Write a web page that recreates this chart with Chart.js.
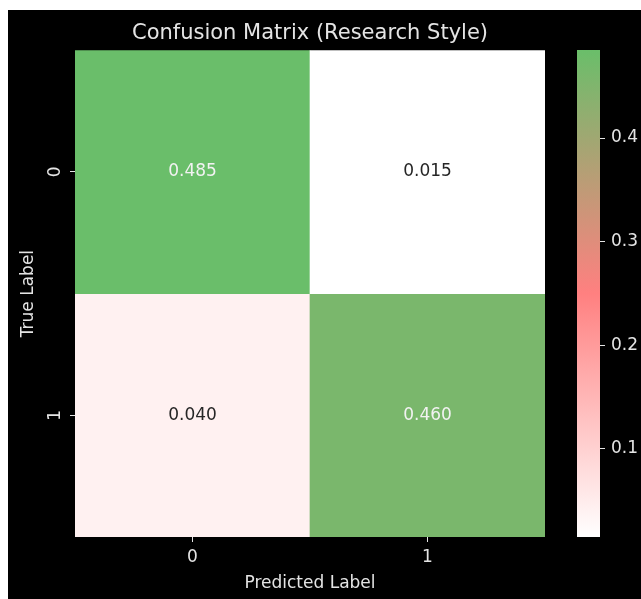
<!DOCTYPE html>
<html>
<head>
<meta charset="utf-8">
<script src="https://cdn.jsdelivr.net/npm/chart.js@4.4.1/dist/chart.umd.min.js"></script>
<style>
  html, body { margin: 0; padding: 0; background: #fff; }
  #wrap { position: relative; width: 641px; height: 599px; overflow: hidden; }
  #panel { position: absolute; left: 8px; top: 10px; width: 633px; height: 589px; background: #000; }
  #heat { position: absolute; left: 0; top: 0; }
  #cbar { position: absolute; left: 565px; top: 0; }
</style>
</head>
<body>
<div id="wrap">
  <div id="panel"></div>
  <canvas id="heat" width="565" height="599"></canvas>
  <canvas id="cbar" width="76" height="599"></canvas>
</div>
<script>
// confusion matrix values (rows = true label, cols = predicted label)
const predLabels = ["0", "1"];
const trueLabels = ["0", "1"];
const matrix = [
  [0.485, 0.015],
  [0.040, 0.460]
];
const cbarTicks = [0.1, 0.2, 0.3, 0.4];

// white -> pink -> green colormap
const cmapStops = ["#ffffff", "#ff8080", "#6abe6a"];

const textCol = "#e4e4e4";
Chart.defaults.font.family = "'DejaVu Sans', sans-serif";
Chart.defaults.font.size = 17;
Chart.defaults.color = textCol;

const vmin = Math.min(...matrix.flat());
const vmax = Math.max(...matrix.flat());

function hexToRgb(h) {
  return [1, 3, 5].map(i => parseInt(h.slice(i, i + 2), 16));
}

function cmapRgb(t) {
  t = Math.max(0, Math.min(1, t));
  const n = cmapStops.length - 1;
  const k = Math.min(Math.floor(t * n), n - 1);
  const f = t * n - k;
  const a = hexToRgb(cmapStops[k]), b = hexToRgb(cmapStops[k + 1]);
  return a.map((v, i) => Math.round(v + (b[i] - v) * f));
}

function cmap(v) {
  const c = cmapRgb((v - vmin) / (vmax - vmin));
  return `rgb(${c[0]},${c[1]},${c[2]})`;
}

// seaborn-like choice of annotation colour
function annotColor(v) {
  const c = cmapRgb((v - vmin) / (vmax - vmin)).map(x => {
    x /= 255;
    return x <= 0.03928 ? x / 12.92 : Math.pow((x + 0.055) / 1.055, 2.4);
  });
  const lum = 0.2126 * c[0] + 0.7152 * c[1] + 0.0722 * c[2];
  return lum < 0.45 ? "#f2f2f2" : "#262626";
}

const cellText = {
  id: "cellText",
  afterDatasetsDraw(chart) {
    const ctx = chart.ctx;
    ctx.save();
    ctx.font = "17px 'DejaVu Sans', sans-serif";
    ctx.textAlign = "center";
    ctx.textBaseline = "middle";
    chart.data.datasets.forEach((ds, r) => {
      chart.getDatasetMeta(r).data.forEach((bar, c) => {
        const v = matrix[r][c];
        const p = bar.getProps(["x", "y", "base"], true);
        ctx.fillStyle = annotColor(v);
        ctx.fillText(v.toFixed(3), p.x, (p.y + p.base) / 2);
      });
    });
    ctx.restore();
  }
};

const datasets = trueLabels.map((lab, r) => ({
  label: "True " + lab,
  data: predLabels.map(() => [r, r + 1]),
  backgroundColor: matrix[r].map(v => cmap(v)),
  borderWidth: 0,
  grouped: false,
  barPercentage: 1,
  categoryPercentage: 1
}));

new Chart(document.getElementById("heat"), {
  type: "bar",
  data: { labels: predLabels, datasets },
  options: {
    responsive: false,
    animation: false,
    layout: { padding: { left: 0, right: 20, top: 0, bottom: 0 }, autoPadding: false },
    plugins: {
      legend: { display: false },
      tooltip: { enabled: false },
      title: {
        display: true,
        text: "Confusion Matrix (Research Style)",
        fullSize: false,
        color: textCol,
        font: { size: 21, weight: "normal" },
        padding: { top: 21, bottom: 4 }
      }
    },
    scales: {
      x: {
        grid: { offset: false, drawOnChartArea: false, tickLength: 5, color: textCol },
        border: { display: false },
        ticks: { padding: 5 },
        afterFit: s => { s.height = 62; },
        title: { display: true, text: "Predicted Label", padding: { top: 0, bottom: 5 } }
      },
      y: {
        min: 0,
        max: 2,
        reverse: true,
        afterBuildTicks: s => { s.ticks = trueLabels.map((l, i) => ({ value: i + 0.5 })); },
        afterFit: s => { s.width = 75; },
        ticks: {
          callback: v => trueLabels[Math.floor(v)],
          minRotation: 90,
          maxRotation: 90,
          crossAlign: "center",
          padding: 9
        },
        grid: { drawOnChartArea: false, tickLength: 5, color: textCol },
        border: { display: false },
        title: { display: true, text: "True Label", padding: { top: 18, bottom: 0 } }
      }
    }
  },
  plugins: [cellText]
});

// colour bar
new Chart(document.getElementById("cbar"), {
  type: "bar",
  data: {
    labels: [""],
    datasets: [{
      data: [[vmin, vmax]],
      backgroundColor: c => {
        const chart = c.chart;
        if (!chart.chartArea) return null;
        const y = chart.scales.y;
        const g = chart.ctx.createLinearGradient(0, y.getPixelForValue(vmin), 0, y.getPixelForValue(vmax));
        cmapStops.forEach((col, i) => g.addColorStop(i / (cmapStops.length - 1), col));
        return g;
      },
      borderWidth: 0,
      barPercentage: 1,
      categoryPercentage: 1
    }]
  },
  options: {
    responsive: false,
    animation: false,
    layout: { padding: { left: 12, right: 0, top: 50, bottom: 62 }, autoPadding: false },
    plugins: { legend: { display: false }, tooltip: { enabled: false } },
    scales: {
      x: { display: false },
      y: {
        position: "right",
        min: vmin,
        max: vmax,
        afterBuildTicks: s => { s.ticks = cbarTicks.map(v => ({ value: v })); },
        afterFit: s => { s.width = 41; },
        ticks: { padding: 6, callback: v => v.toFixed(1) },
        grid: { drawOnChartArea: false, tickLength: 5, color: textCol },
        border: { display: false }
      }
    }
  }
});
</script>
</body>
</html>
